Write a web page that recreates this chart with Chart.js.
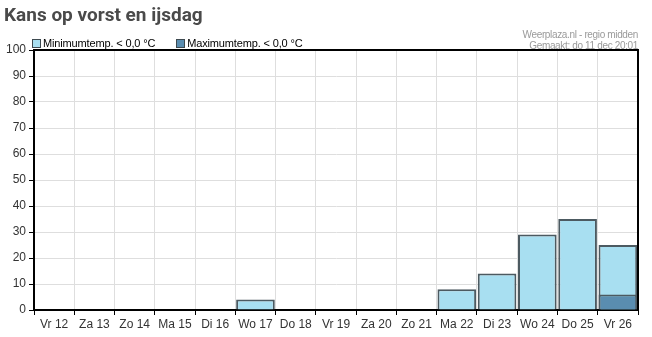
<!DOCTYPE html>
<html>
<head>
<meta charset="utf-8">
<script src="https://cdn.jsdelivr.net/npm/chart.js@4.4.0/dist/chart.umd.min.js"></script>
<style>
    body { margin: 0; background: #fff; font-family: 'Liberation Sans', Arial, sans-serif; }
    #wrap { position: relative; width: 652px; height: 337px; overflow: hidden; }
    #grafico { position: absolute; left: 0; top: 0; }
    .titel { position: absolute; left: 4px; top: 3px; font: bold 19px Roboto, sans-serif; color: #4a4a4a; }
    .bron { position: absolute; right: 14px; top: 29px; font-size: 10px; line-height: 11px; letter-spacing: -0.35px; color: #9a9a9a; text-align: right; }
    #legenda { position: absolute; left: 32px; top: 37px; font-size: 11px; letter-spacing: -0.15px; color: #000; white-space: nowrap; }
    #legenda span.item { display: inline-block; margin-right: 21px; }
    #legenda span.box { display: inline-block; width: 7px; height: 7px; border: 1px solid #3e4a50; margin-right: 2px; vertical-align: -1px; }
</style>
</head>
<body>
<div id="wrap">
    <canvas id="grafico" width="652" height="337"></canvas>
    <div class="titel">Kans op vorst en ijsdag</div>
    <div class="bron">Weerplaza.nl - regio midden<br>Gemaakt: do 11 dec 20:01</div>
    <div id="legenda"></div>
</div>
<script>
const dagen = ['Vr 12', 'Za 13', 'Zo 14', 'Ma 15', 'Di 16', 'Wo 17', 'Do 18', 'Vr 19', 'Za 20', 'Zo 21', 'Ma 22', 'Di 23', 'Wo 24', 'Do 25', 'Vr 26']
const kansMin = [0, 0, 0, 0, 0, 4, 0, 0, 0, 0, 8, 14, 29, 35, 25]
const kansMax = [0, 0, 0, 0, 0, 0, 0, 0, 0, 0, 0, 0, 0, 0, 6]
const labelMin = 'Minimumtemp. < 0,0 °C'
const labelMax = 'Maximumtemp. < 0,0 °C'

// rand boven en rechts van het plotvlak
const kader = {
    id: 'kader',
    afterDraw: function (chart) {
        let a = chart.chartArea
        let ctx = chart.ctx
        ctx.save()
        ctx.strokeStyle = '#000'
        ctx.lineWidth = 2
        ctx.beginPath()
        ctx.moveTo(a.left, a.top)
        ctx.lineTo(a.right, a.top)
        ctx.lineTo(a.right, a.bottom)
        ctx.stroke()
        ctx.restore()
    }
}

let canvas = document.getElementById('grafico').getContext('2d')
let chart = new Chart(canvas, {
    type: 'bar',
    data: {
        labels: dagen,
        datasets: [{
                label: labelMin,
                data: kansMin,
                backgroundColor: '#a8dff1',
                borderColor: '#4c5a61',
                borderWidth: 2,
                order: 1
            }, {
                label: labelMax,
                data: kansMax,
                backgroundColor: '#5a8db0',
                borderColor: '#4c5a61',
                borderWidth: 2,
                order: 0
            }]
    },
    options: {
        responsive: false,
        animation: false,
        layout: { padding: { top: 50, right: 14, left: 0, bottom: 0 } },
        datasets: {
            bar: { grouped: false, categoryPercentage: 1, barPercentage: 0.96 }
        },
        plugins: {
            legend: { display: false },
            tooltip: { enabled: false }
        },
        scales: {
            x: {
                grid: { offset: true, color: '#dedede', tickColor: '#000', tickLength: 5 },
                border: { color: '#000', width: 2 },
                ticks: { color: '#333', padding: 2, maxRotation: 0, minRotation: 0, autoSkip: false, font: { family: 'Liberation Sans', size: 12 } },
                afterFit: function (scale) { scale.height = 27 }
            },
            y: {
                min: 0,
                max: 100,
                grid: { color: '#dedede', tickColor: '#000', tickLength: 5 },
                border: { color: '#000', width: 2 },
                ticks: { stepSize: 10, color: '#333', padding: 3, font: { family: 'Liberation Sans', size: 12 } },
                afterFit: function (scale) { scale.width = 34 }
            }
        }
    },
    plugins: [kader]
})

// legenda
let html = ''
chart.data.datasets.forEach(function (ds) {
    html += '<span class="item"><span class="box" style="background:' + ds.backgroundColor + '"></span>' + ds.label + '</span>'
})
document.getElementById('legenda').innerHTML = html
</script>
</body>
</html>
